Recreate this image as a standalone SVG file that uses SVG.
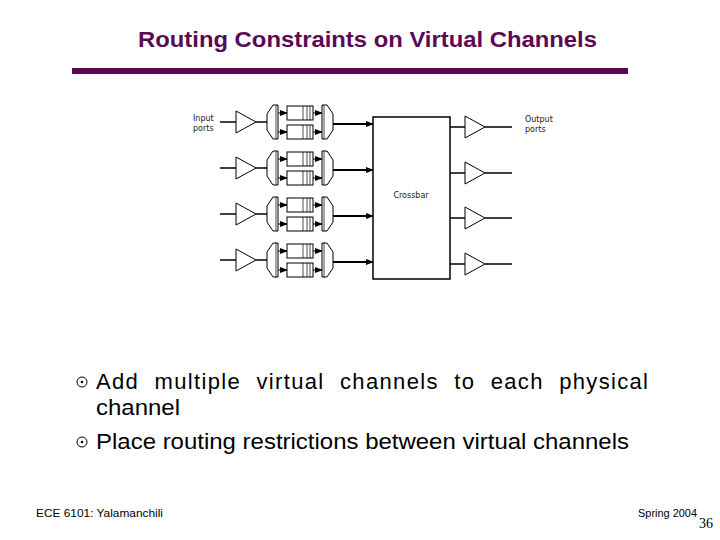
<svg xmlns="http://www.w3.org/2000/svg" width="720" height="540" viewBox="0 0 720 540">
<style>
.ln{stroke:#000;stroke-width:1.5;fill:none}
.sh{stroke:#000;stroke-width:1;fill:#fff}
.sm{font-family:"DejaVu Sans",sans-serif;font-size:8px;fill:#222}
.b{font-family:"Liberation Sans",Arial,sans-serif;font-size:22px;fill:#000}
.f{font-family:"Liberation Sans",Arial,sans-serif;font-size:11px;fill:#000}
</style>
<defs>
<marker id="ah" markerWidth="8" markerHeight="6" refX="7" refY="3" orient="auto" markerUnits="userSpaceOnUse"><path d="M0,0L8,3L0,6z" fill="#000"/></marker>
<g id="inrow">
<line class="ln" x1="220" y1="0" x2="236" y2="0"/>
<polygon class="sh" points="236,-11 256,0 236,11"/>
<line class="ln" x1="256" y1="0" x2="267" y2="0"/>
<polygon class="sh" points="267,-8 273,-17 278,-17 278,17 273,17 267,8"/>
<line x1="276" y1="-17" x2="276" y2="17" stroke="#000" stroke-width="0.7"/>
<line x1="278" y1="-9" x2="287" y2="-9" stroke="#000" marker-end="url(#ah)"/>
<line x1="278" y1="10" x2="287" y2="10" stroke="#000" marker-end="url(#ah)"/>
<rect class="sh" x="287" y="-16" width="26" height="14"/>
<rect class="sh" x="287" y="3" width="26" height="14"/>
<path d="M303,-16v14M307,-16v14M310,-16v14M303,3v14M307,3v14M310,3v14" stroke="#000" stroke-width="0.7"/>
<line x1="313" y1="-9" x2="322" y2="-9" stroke="#000" marker-end="url(#ah)"/>
<line x1="313" y1="10" x2="322" y2="10" stroke="#000" marker-end="url(#ah)"/>
<polygon class="sh" points="322,-17 327,-17 333,-8 333,8 327,17 322,17"/>
<line x1="324" y1="-17" x2="324" y2="17" stroke="#000" stroke-width="0.7"/>
<line x1="333" y1="2" x2="373" y2="2" stroke="#000" stroke-width="2" marker-end="url(#ah)"/>
</g>
<g id="outrow">
<line class="ln" x1="450" y1="0" x2="465" y2="0"/>
<polygon class="sh" points="465,-11 485,0 465,11"/>
<line class="ln" x1="485" y1="0" x2="512" y2="0"/>
</g>
</defs>
<g id="title">
<text x="138" y="47" textLength="459" lengthAdjust="spacingAndGlyphs" font-family="Liberation Sans,Arial,sans-serif" font-size="22" font-weight="bold" fill="#5a0a52">Routing Constraints on Virtual Channels</text>
<rect x="72" y="68" width="556" height="6" fill="#5a0a52"/>
</g>
<g id="connectors">
<use href="#inrow" y="122"/>
<use href="#inrow" y="168"/>
<use href="#inrow" y="214"/>
<use href="#inrow" y="260"/>
<use href="#outrow" y="127"/>
<use href="#outrow" y="173"/>
<use href="#outrow" y="218"/>
<use href="#outrow" y="264"/>
</g>
<g id="crossbar">
<rect x="373" y="117" width="77" height="162" fill="#fff" stroke="#000" stroke-width="1.5"/>
<text class="sm" x="411" y="198" text-anchor="middle">Crossbar</text>
</g>
<g id="labels">
<text class="sm" x="193" y="121">Input</text>
<text class="sm" x="193" y="131">ports</text>
<text class="sm" x="525" y="122">Output</text>
<text class="sm" x="525" y="132">ports</text>
</g>
<g id="bullets">
<circle cx="82" cy="382" r="5" fill="none" stroke="#000"/><circle cx="82" cy="382" r="1.3"/>
<text class="b" x="96" y="389" textLength="552" lengthAdjust="spacing" word-spacing="8">Add multiple virtual channels to each physical</text>
<text class="b" x="96" y="415" textLength="84" lengthAdjust="spacingAndGlyphs">channel</text>
<circle cx="82" cy="442" r="5" fill="none" stroke="#000"/><circle cx="82" cy="442" r="1.3"/>
<text class="b" x="96" y="449" textLength="533" lengthAdjust="spacingAndGlyphs">Place routing restrictions between virtual channels</text>
</g>
<g id="footer">
<text class="f" x="36" y="517" textLength="127" lengthAdjust="spacingAndGlyphs">ECE 6101: Yalamanchili</text>
<text class="f" x="638" y="517" textLength="59" lengthAdjust="spacingAndGlyphs">Spring 2004</text>
<text x="699" y="528" font-family="Liberation Serif,serif" font-size="14">36</text>
</g>
</svg>
